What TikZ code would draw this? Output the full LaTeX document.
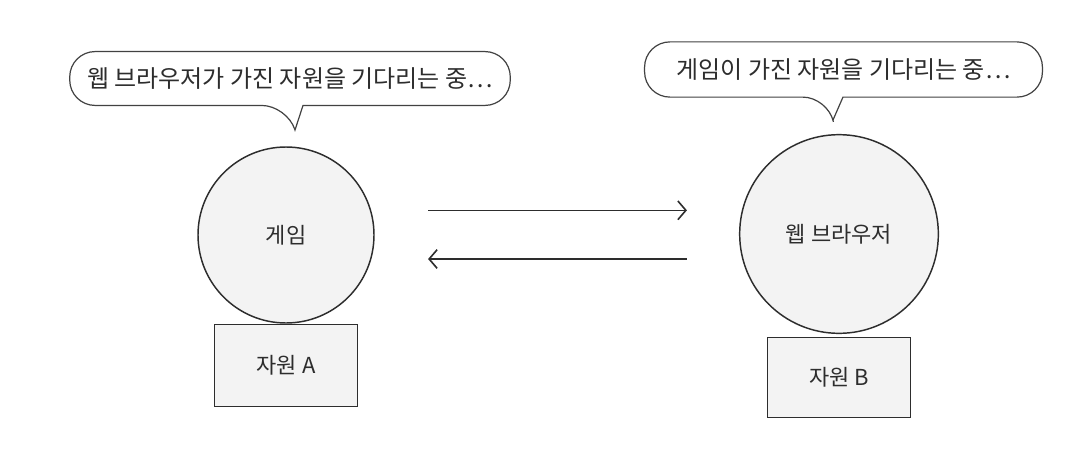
\documentclass[tikz,border=0pt]{standalone}
\usepackage{fontspec}
\setmainfont{Noto Sans CJK KR}
\usetikzlibrary{arrows.meta,positioning,calc}
\definecolor{ink}{RGB}{45,45,45}
\definecolor{paper}{RGB}{243,243,243}

\begin{document}
\begin{tikzpicture}[x=0.75pt,y=-0.75pt,
    proc/.style={circle,draw=ink,line width=1.1pt,fill=paper,inner sep=0pt,font=\fontsize{16.5}{18}\selectfont,text=ink},
    res/.style={draw=ink,line width=1.1pt,fill=paper,minimum width=107pt,font=\fontsize{16.5}{18}\selectfont,text=ink},
    say/.style={inner sep=0pt,font=\fontsize{18}{20}\selectfont,text=ink},
    balloon/.style={draw=ink!90,line width=0.9pt,fill=white},
    flow/.style={draw=ink,line width=1.2pt,-{Straight Barb[length=6pt,width=14pt]}}]
  \useasboundingbox[fill=white] (0,0) rectangle (1080,460);

  \node[proc,minimum size=132pt] (game) at (286,235) {게임};
  \node[proc,minimum size=149pt] (browser) at (839,234) {웹 브라우저};
  \node[res,minimum height=61.5pt,below=0pt of game] (resA) {자원 A};
  \node[res,minimum height=60pt,below=2pt of browser] (resB) {자원 B};

  \node[say,minimum width=330pt,minimum height=40pt] (say1) at (290,78.5) {};
  \node[say,minimum width=298pt,minimum height=41pt] (say2) at (843.5,69.5) {};
  \coordinate (tip1) at (295,130);
  \coordinate (tip2) at (833,120);
  \draw[balloon] ([xshift=9.75pt]say1.south) [rounded corners=19pt] -| (say1.north east) -| (say1.south west)
    -- ([xshift=-2.25pt]say1.south) [sharp corners] -- (tip1) -- cycle;
  \draw[balloon] ([xshift=-0.4pt]say2.south) [rounded corners=19pt] -| (say2.north east) -| (say2.south west)
    -- ([xshift=-11.6pt]say2.south) [sharp corners] -- (tip2) -- cycle;
  \node[say] at (say1) {웹 브라우저가 가진 자원을 기다리는 중…};
  \node[say] at (say2) {게임이 가진 자원을 기다리는 중…};

  \draw[flow,shorten <=40pt,shorten >=39pt] ([yshift=18.5pt]game.east) -- ([yshift=18.5pt]game.east -| browser.west);
  \draw[flow,shorten <=39pt,shorten >=40pt] ([yshift=-18pt]game.east -| browser.west) -- ([yshift=-18pt]game.east);
\end{tikzpicture}
\end{document}
